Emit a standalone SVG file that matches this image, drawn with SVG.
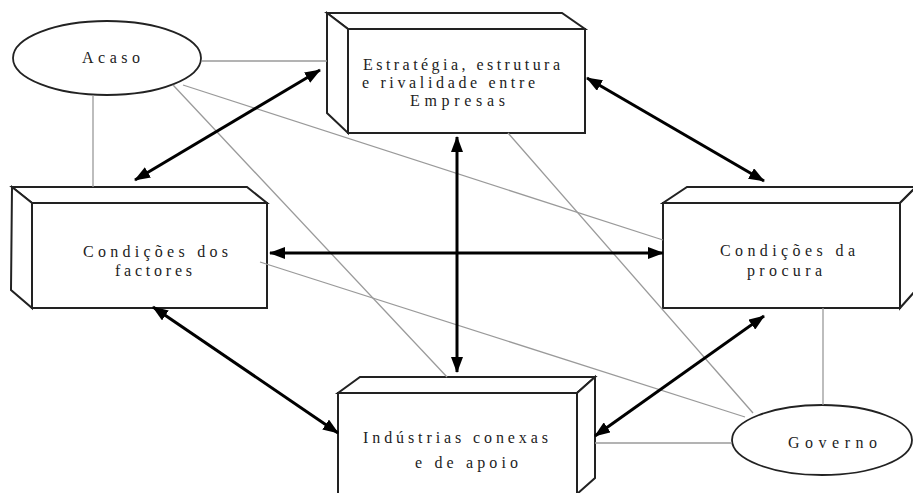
<svg xmlns="http://www.w3.org/2000/svg" width="913" height="493" viewBox="0 0 913 493">
<style>
.box{fill:#fff;stroke:#222;stroke-width:2;stroke-linejoin:miter}
.ell{fill:#fff;stroke:#222;stroke-width:1.8}
.thin{stroke:#9a9a9a;stroke-width:1.3;fill:none}
.thick{stroke:#000;stroke-width:3;fill:none;marker-start:url(#ah);marker-end:url(#ah)}
text{font-family:"Liberation Serif","Times New Roman",serif;font-size:16px;fill:#222}
</style>
<defs>
<marker id="ah" markerUnits="userSpaceOnUse" markerWidth="16" markerHeight="12" refX="15" refY="6" orient="auto-start-reverse" viewBox="0 0 16 12">
<path d="M0,0 L16,6 L0,12 z" fill="#000"/>
</marker>
</defs>
<rect width="913" height="493" fill="#fff"/>

<g id="acaso">
<ellipse class="ell" cx="107" cy="58" rx="94" ry="37"/>
<text x="82" y="63" textLength="58" lengthAdjust="spacing">Acaso</text>
</g>

<g id="estrategia">
<polygon class="box" points="327,13 562,13 585,29 348,29"/>
<polygon class="box" points="327,13 348,29 348,133 327,113"/>
<rect class="box" x="348" y="29" width="237" height="104"/>
<text x="363" y="70" textLength="197" lengthAdjust="spacing">Estratégia, estrutura</text>
<text x="362" y="88" textLength="173" lengthAdjust="spacing">e  rivalidade entre</text>
<text x="410" y="106" textLength="95" lengthAdjust="spacing">Empresas</text>
</g>

<g id="factores">
<polygon class="box" points="12,187 247,187 267,203 32,203"/>
<polygon class="box" points="12,187 32,203 32,308 11,290"/>
<rect class="box" x="32" y="203" width="235" height="105"/>
<text x="83" y="257" textLength="145" lengthAdjust="spacing">Condições dos</text>
<text x="115" y="276" textLength="77" lengthAdjust="spacing">factores</text>
</g>

<g id="procura">
<polygon class="box" points="687,187 916,187 900,203 663,203"/>
<polygon class="box" points="900,203 916,187 916,290 900,308"/>
<rect class="box" x="663" y="203" width="237" height="105"/>
<text x="720" y="256" textLength="135" lengthAdjust="spacing">Condições da</text>
<text x="747" y="276" textLength="75" lengthAdjust="spacing">procura</text>
</g>

<g id="industrias">
<polygon class="box" points="360,377 595,377 577,393 338,393"/>
<polygon class="box" points="577,393 595,377 595,478 577,494"/>
<rect class="box" x="338" y="393" width="239" height="104"/>
<text x="363" y="443" textLength="185" lengthAdjust="spacing">Indústrias conexas</text>
<text x="415" y="468" textLength="103" lengthAdjust="spacing">e de apoio</text>
</g>

<g id="governo">
<ellipse class="ell" cx="822" cy="440" rx="90" ry="35"/>
<text x="788" y="448" textLength="89" lengthAdjust="spacing">Governo</text>
</g>

<g id="connectors">
<line class="thin" x1="202" y1="61" x2="327" y2="61"/>
<line class="thin" x1="93" y1="95" x2="93" y2="187"/>
<line class="thin" x1="183" y1="85" x2="663" y2="240"/>
<line class="thin" x1="173" y1="85" x2="447" y2="377"/>
<line class="thin" x1="508" y1="133" x2="753" y2="413"/>
<line class="thin" x1="260" y1="262" x2="745" y2="417"/>
<line class="thin" x1="823" y1="308" x2="823" y2="405"/>
<line class="thin" x1="595" y1="443" x2="732" y2="443"/>

<line class="thick" x1="135" y1="180" x2="320" y2="70"/>
<line class="thick" x1="587" y1="78" x2="764" y2="181"/>
<line class="thick" x1="457" y1="137" x2="457" y2="372"/>
<line class="thick" x1="270" y1="253" x2="663" y2="253"/>
<line class="thick" x1="153" y1="307" x2="338" y2="433"/>
<line class="thick" x1="764" y1="316" x2="595" y2="436"/>
</g>
</svg>
